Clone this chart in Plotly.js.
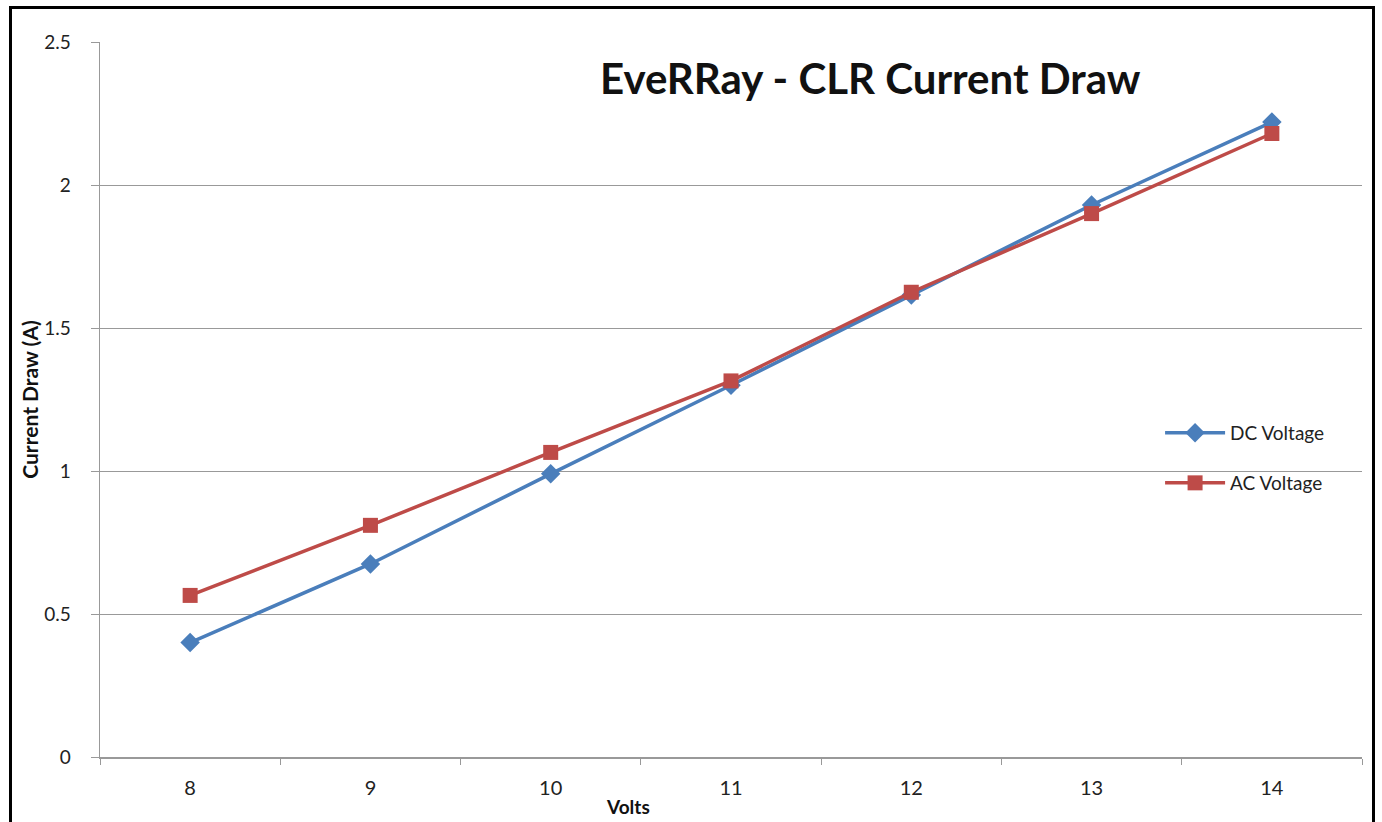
<!DOCTYPE html>
<html>
<head>
<meta charset="utf-8">
<script src="https://cdn.plot.ly/plotly-3.0.1.min.js"></script>
<style>
html,body{margin:0;padding:0;background:#fff;overflow:hidden;}
#chart{position:absolute;left:0;top:0;width:1382px;height:822px;}
#frame{position:absolute;left:9px;top:6px;width:1360px;height:900px;border:3px solid #000;pointer-events:none;}
</style>
</head>
<body>
<div id="chart"></div>
<div id="frame"></div>
<script>
const volts = ["8","9","10","11","12","13","14"];
const dcCurrent = [0.40, 0.675, 0.99, 1.30, 1.615, 1.93, 2.22];
const acCurrent = [0.565, 0.81, 1.065, 1.315, 1.625, 1.90, 2.18];
const yTickVals = [0, 0.5, 1, 1.5, 2, 2.5];
const yTickText = ["0", "0.5", "1", "1.5", "2", "2.5"];

const fontFam = "Lato, 'Open Sans', 'DejaVu Sans', sans-serif";

const traces = [
  {
    x: volts, y: dcCurrent, name: "DC Voltage", type: "scatter", mode: "lines+markers",
    line: {color: "#4a7ebb", width: 3.5},
    marker: {symbol: "diamond", size: 15, color: "#4a7ebb"},
    legend: "legend"
  },
  {
    x: volts, y: acCurrent, name: "AC Voltage", type: "scatter", mode: "lines+markers",
    line: {color: "#be4b48", width: 3.5},
    marker: {symbol: "square", size: 15, color: "#be4b48"},
    legend: "legend2"
  }
];

const legendBase = {
  xref: "paper", yref: "paper", xanchor: "left", yanchor: "middle",
  bgcolor: "rgba(0,0,0,0)", font: {family: fontFam, size: 19, color: "#222"},
  itemwidth: 60
};

const layout = {
  width: 1382, height: 822,
  margin: {l: 100, r: 20, t: 42, b: 65},
  paper_bgcolor: "#fff", plot_bgcolor: "#fff",
  showlegend: true,
  legend: Object.assign({}, legendBase, {x: 0.84, y: (757 - 433) / 715}),
  legend2: Object.assign({}, legendBase, {x: 0.84, y: (757 - 483) / 715}),
  xaxis: {
    type: "category",
    tickson: "boundaries",
    ticks: "outside", ticklen: 6, tickcolor: "#999",
    showgrid: false,
    showline: true, linecolor: "#999", linewidth: 1.5,
    tickfont: {family: fontFam, size: 20, color: "#222"},
    ticklabelstandoff: 12,
    range: [-0.5, 6.5],
    zeroline: false,
    fixedrange: true
  },
  yaxis: {
    range: [0, 2.5],
    tickvals: yTickVals, ticktext: yTickText,
    ticks: "outside", ticklen: 8, tickcolor: "#999",
    showgrid: true, gridcolor: "#999", gridwidth: 1,
    showline: true, linecolor: "#999", linewidth: 1.5,
    zeroline: false,
    tickfont: {family: fontFam, size: 19, color: "#222"},
    ticklabelstandoff: 16,
    title: {text: "<b>Current Draw (A)</b>", font: {family: fontFam, size: 21, color: "#111"}, standoff: 0},
    fixedrange: true
  },
  annotations: [
    {
      text: "<b>EveRRay - CLR Current Draw</b>", xref: "paper", yref: "paper",
      x: (870 - 100) / 1262, y: (757 - 78) / 715, xanchor: "center", yanchor: "middle",
      showarrow: false, font: {family: fontFam, size: 42, color: "#111"}
    },
    {
      text: "<b>Volts</b>", xref: "paper", yref: "paper",
      x: (628 - 100) / 1262, y: -(806 - 757) / 715, xanchor: "center", yanchor: "middle",
      showarrow: false, font: {family: fontFam, size: 19, color: "#111"}
    }
  ]
};

Plotly.newPlot("chart", traces, layout, {displayModeBar: false, staticPlot: true});
</script>
</body>
</html>
